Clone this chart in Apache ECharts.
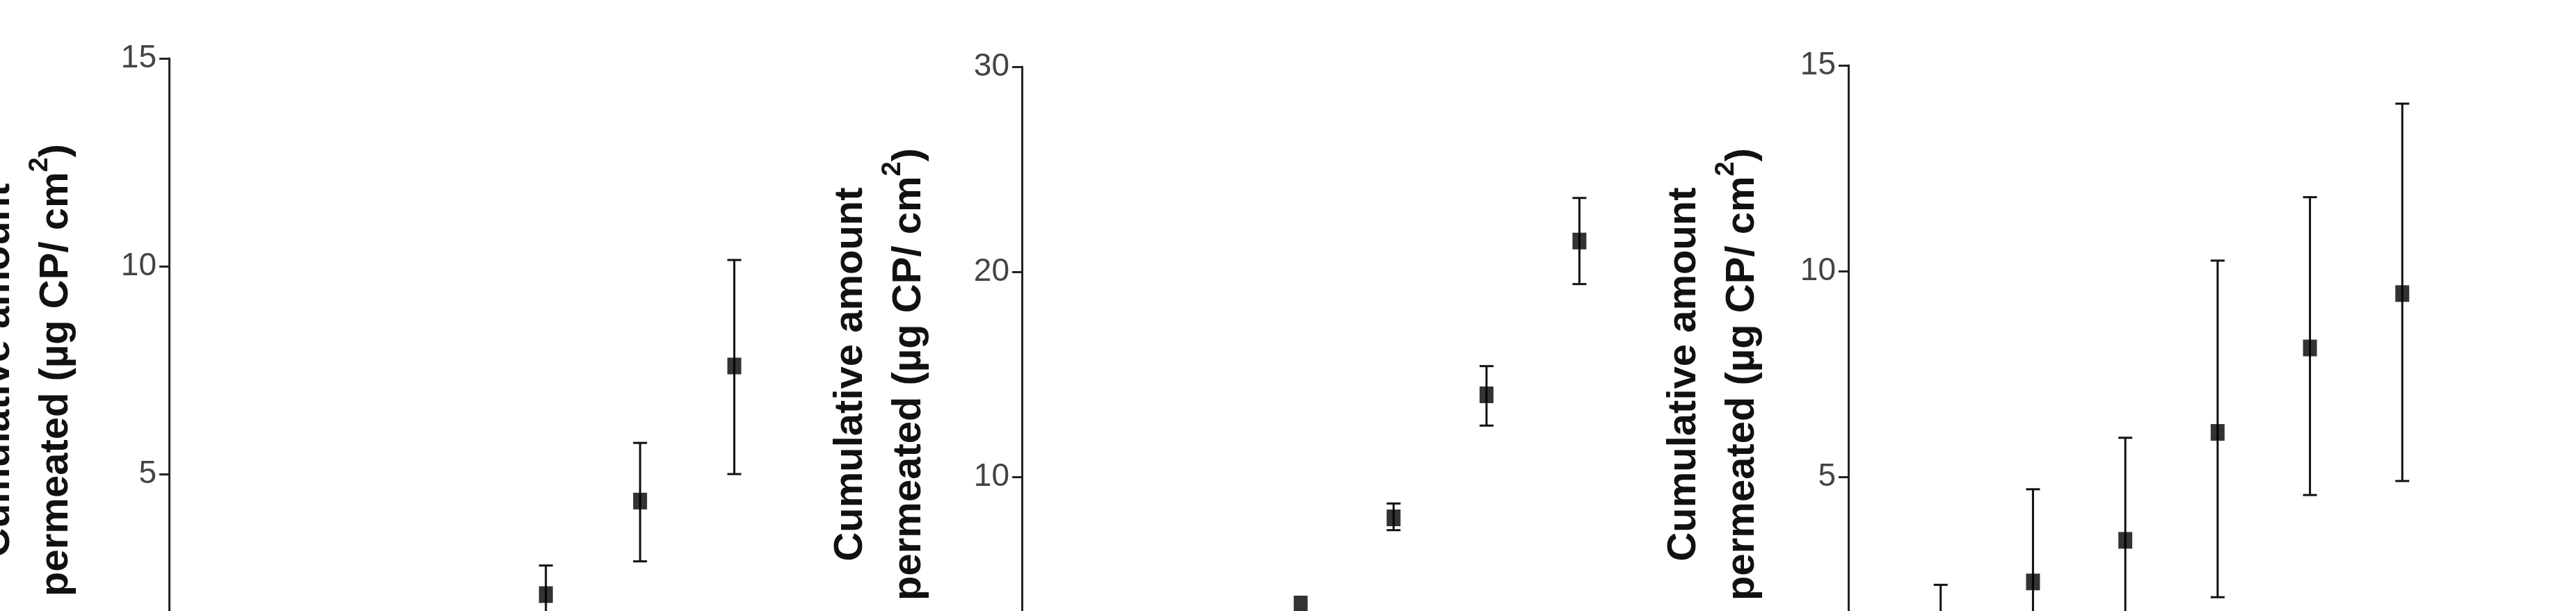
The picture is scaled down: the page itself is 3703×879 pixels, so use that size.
<!DOCTYPE html>
<html>
<head>
<meta charset="utf-8">
<script src="https://cdn.jsdelivr.net/npm/echarts@6/dist/echarts.min.js"></script>
<style>html,body{margin:0;padding:0;background:#fff}#main{width:3703px;height:879px}</style>
</head>
<body>
<div id="main"></div>
<script>
// data
var times1 = [0.083, 0.33, 0.67, 1.33, 2, 3, 4, 5, 6];
var mean1 = [0, 0.05, 0.05, 0.15, 0.3, 0.85, 2.1, 4.35, 7.6];
var low1 = [0, 0.05, 0.05, 0.15, 0.3, 0.5, 1.4, 2.9, 5.0];
var high1 = [0, 0.05, 0.05, 0.15, 0.3, 1.2, 2.8, 5.75, 10.15];

var times2 = [0.083, 0.33, 0.67, 1, 2, 3, 4, 5, 6];
var mean2 = [0, 0, 0.1, 0.4, 1.5, 3.8, 8.0, 14.0, 21.5];
var low2 = [0, 0, 0.1, 0.4, 1.5, 3.8, 7.4, 12.5, 19.4];
var high2 = [0, 0, 0.1, 0.4, 1.5, 3.8, 8.7, 15.4, 23.6];

var times3 = [0.083, 0.33, 0.67, 1, 2, 3, 4, 5, 6];
var mean3 = [0.2, 0.28, 0.51, 0.89, 2.46, 3.47, 6.09, 8.14, 9.46];
var low3 = [0, -0.47, -0.54, -0.6, 0.28, 1.02, 2.09, 4.57, 4.91];
var high3 = [0.51, 1.05, 1.65, 2.39, 4.71, 5.96, 10.26, 11.8, 14.07];

var yMax = [15, 30, 15];
var yStep = [5, 10, 5];
var xTitles = ['Time (h)', 'Time', 'Time (h)'];

var panels = [
  { t: times1, m: mean1, lo: low1, hi: high1 },
  { t: times2, m: mean2, lo: low2, hi: high2 },
  { t: times3, m: mean3, lo: low3, hi: high3 }
];

// grid boxes in pixels
var grids = [
  { left: 243, top: 84, width: 948, height: 897 },
  { left: 1469, top: 96, width: 935, height: 885 },
  { left: 2657, top: 94, width: 929, height: 889 }
];

var tickFont = { fontFamily: 'Liberation Sans', fontSize: 46, color: '#444' };
var yName = '{a|Cumulative amount}\n{a|permeated (\u00b5g CP/ cm}{s|2}{a|)}';

var option = { animation: false, grid: [], xAxis: [], yAxis: [], series: [] };

panels.forEach(function (p, i) {
  option.grid.push(Object.assign({ outerBoundsMode: 'none', containLabel: false }, grids[i]));
  option.xAxis.push({
    type: 'value', gridIndex: i, min: 0, max: 7, interval: 1,
    name: xTitles[i], nameLocation: 'middle', nameGap: 150,
    nameTextStyle: { fontFamily: 'Liberation Sans', fontWeight: 'bold', fontSize: 54, color: '#111' },
    axisLine: { lineStyle: { color: '#222', width: 3 } },
    axisTick: { length: 14, lineStyle: { color: '#222', width: 3 } },
    axisLabel: Object.assign({ margin: 28 }, tickFont),
    splitLine: { show: false }
  });
  option.yAxis.push({
    type: 'value', gridIndex: i, min: 0, max: yMax[i], interval: yStep[i],
    name: yName, nameLocation: 'middle', nameRotate: 90, nameGap: i === 2 ? 110 : 120,
    nameTextStyle: {
      rich: {
        a: { fontFamily: 'Liberation Sans', fontWeight: 'bold', fontSize: 58, lineHeight: 84, color: '#111' },
        s: { fontFamily: 'Liberation Sans', fontWeight: 'bold', fontSize: 38, lineHeight: 84, verticalAlign: 'top', color: '#111' }
      }
    },
    axisLine: { show: true, lineStyle: { color: '#222', width: 3 } },
    axisTick: { show: true, length: 14, lineStyle: { color: '#222', width: 3 } },
    axisLabel: Object.assign({ margin: 18 }, tickFont),
    splitLine: { show: false }
  });

  var bars = p.t.map(function (x, k) { return [x, p.lo[k], p.hi[k]]; });
  option.series.push({
    type: 'custom', xAxisIndex: i, yAxisIndex: i, data: bars, z: 2,
    renderItem: function (params, api) {
      var x = api.value(0);
      var a = api.coord([x, api.value(1)]);
      var b = api.coord([x, api.value(2)]);
      if (Math.abs(a[1] - b[1]) < 2) return null;
      var w = 10;
      var st = { stroke: '#111', lineWidth: 3 };
      return { type: 'group', children: [
        { type: 'line', shape: { x1: a[0], y1: a[1], x2: b[0], y2: b[1] }, style: st },
        { type: 'line', shape: { x1: a[0] - w, y1: a[1], x2: a[0] + w, y2: a[1] }, style: st },
        { type: 'line', shape: { x1: b[0] - w, y1: b[1], x2: b[0] + w, y2: b[1] }, style: st }
      ] };
    }
  });
  option.series.push({
    type: 'scatter', xAxisIndex: i, yAxisIndex: i, z: 3,
    symbol: 'rect', symbolSize: [20, 24],
    itemStyle: { color: '#000' },
    data: p.t.map(function (x, k) { return [x, p.m[k]]; })
  });
});

echarts.init(document.getElementById('main')).setOption(option);
</script>
</body>
</html>
